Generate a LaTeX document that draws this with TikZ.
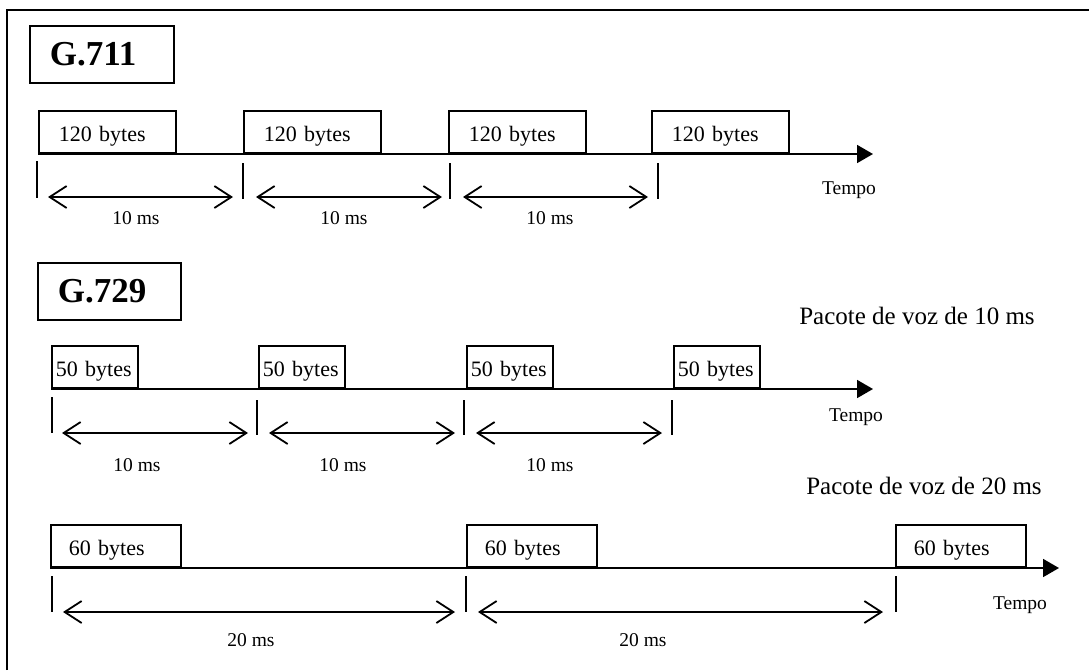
\documentclass[tikz,border=0pt]{standalone}
\usepackage{fontspec}
\setmainfont{Liberation Serif}
\usetikzlibrary{arrows.meta}

\begin{document}
\begin{tikzpicture}[
x=1pt, y=-1pt,
every node/.style={font=\fontsize{22}{26}\selectfont},
codec/.style={draw, line width=1.8pt, anchor=north west, minimum height=57pt, align=left, inner xsep=20pt, text width=103pt, font=\fontsize{35}{40}\selectfont\bfseries},
pkt/.style={draw, line width=1.8pt, anchor=south west, minimum height=42pt, inner ysep=0pt, text height=30pt, text depth=12pt, align=left},
pkta/.style={pkt, inner xsep=20pt, text width=97pt},
pktb/.style={pkt, inner xsep=4pt, text width=78pt},
pktc/.style={pkt, inner xsep=18pt, text width=94pt},
timeline/.style={line width=1.8pt, -{Triangle[length=16pt,width=18pt]}},
tick/.style={line width=1.6pt},
span/.style={line width=1.8pt, {Straight Barb[length=17pt,width=22pt]}-{Straight Barb[length=17pt,width=22pt]}},
small/.style={font=\fontsize{19.5}{22}\selectfont},
note/.style={font=\fontsize{25}{30}\selectfont}
]
\useasboundingbox (0,0) rectangle (1089,670);
% frame
\draw[line width=1.8pt] (7,670) -- (7,10) -- (1089,10);

% G.711
\node[codec, text width=104pt, inner xsep=20pt] (g711) at (29,25) {G.711};
\node[pkta] (a1) at (38,154) {120 bytes};
\node[pkta] (a2) at (243,154) {120 bytes};
\node[pkta] (a3) at (448,154) {120 bytes};
\node[pkta] (a4) at (651,154) {120 bytes};
\coordinate (enda) at (873,154);
\draw[timeline] (a1.south west) -- (enda);
\draw[tick] (37,161) -- (37,198);
\draw[tick] (243,163) -- (243,199);
\draw[tick] (450,163) -- (450,199);
\draw[tick] (658,163) -- (658,199);
\draw[span] (48,197) -- (233,197);
\draw[span] (256,197) -- (442,197);
\draw[span] (463,197) -- (648,197);
\node[small] (ta1) at (136,218) {10 ms};
\node[small] (ta2) at (344,218) {10 ms};
\node[small] (ta3) at (550,218) {10 ms};
\node[small] (tempoa) at (849,190) {Tempo};

% G.729, 10 ms
\node[codec] (g729) at (37,262) {G.729};
\node[note] (voz10) at (917,316) {Pacote de voz de 10 ms};
\node[pktb] (b1) at (51,389) {50 bytes};
\node[pktb] (b2) at (258,389) {50 bytes};
\node[pktb] (b3) at (466,389) {50 bytes};
\node[pktb] (b4) at (673,389) {50 bytes};
\coordinate (endb) at (873,389);
\draw[timeline] (b1.south west) -- (endb);
\draw[tick] (52,397) -- (52,433);
\draw[tick] (257,400) -- (257,435);
\draw[tick] (464,400) -- (464,435);
\draw[tick] (672,400) -- (672,435);
\draw[span] (62,433) -- (248,433);
\draw[span] (269,433) -- (455,433);
\draw[span] (476,433) -- (662,433);
\node[small] (tb1) at (137,465) {10 ms};
\node[small] (tb2) at (343,465) {10 ms};
\node[small] (tb3) at (550,465) {10 ms};
\node[small] (tempob) at (856,417) {Tempo};

% G.729, 20 ms
\node[note] (voz20) at (924,486) {Pacote de voz de 20 ms};
\node[pktc] (c1) at (50,568) {60 bytes};
\node[pktc] (c2) at (466,568) {60 bytes};
\node[pktc] (c3) at (895,568) {60 bytes};
\coordinate (endc) at (1059,568);
\draw[timeline] (c1.south west) -- (endc);
\draw[tick] (52,576) -- (52,612);
\draw[tick] (466,576) -- (466,612);
\draw[tick] (896,576) -- (896,612);
\draw[span] (63,612) -- (455,612);
\draw[span] (478,612) -- (883,612);
\node[small] (tc1) at (251,640) {20 ms};
\node[small] (tc2) at (643,640) {20 ms};
\node[small] (tempoc) at (1020,605) {Tempo};
\end{tikzpicture}
\end{document}
